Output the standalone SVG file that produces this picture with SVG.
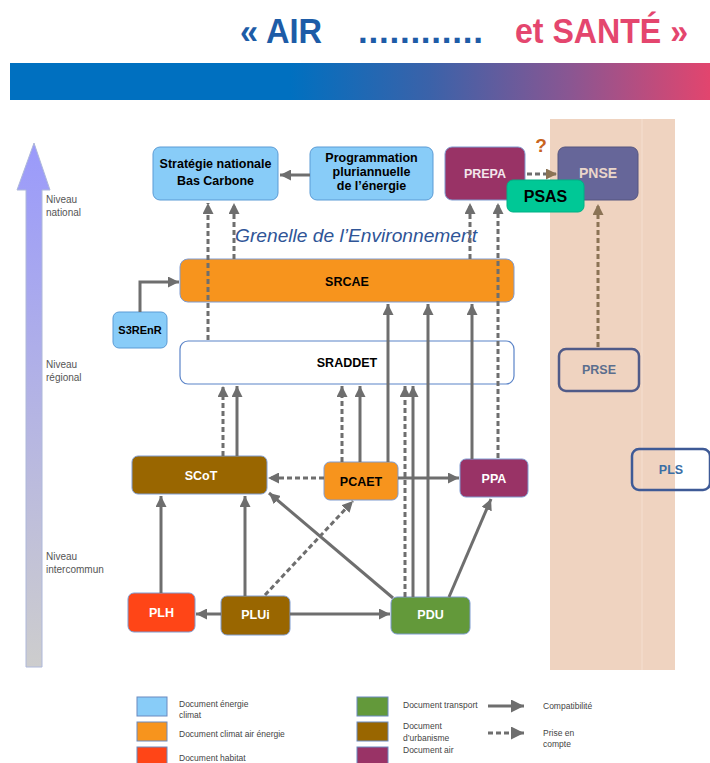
<svg xmlns="http://www.w3.org/2000/svg" width="710" height="763" viewBox="0 0 710 763">
<style>
text{font-family:"Liberation Sans",Arial,sans-serif}
.n text{font-weight:bold;font-size:12.5px;text-anchor:middle}
.t{font-weight:bold}
.lv{font-size:10px;fill:#555}
.lg{font-size:8.5px;fill:#444}
.c{stroke:#6E6E6E;stroke-width:3;fill:none}
.d{stroke-dasharray:5 3}
.bl{fill:#88CCF8;stroke:#5B9BD5;stroke-width:1}
.or{fill:#F7941D;stroke:#7E9BD0;stroke-width:1}
.br{fill:#996600;stroke:#7E9BD0;stroke-width:1}
.pu{fill:#993366;stroke:#7E9BD0;stroke-width:1}
.gr{fill:#63993A;stroke:#7E9BD0;stroke-width:1}
.rd{fill:#FF4517;stroke:#7E9BD0;stroke-width:1}
.sw{stroke:#6A8AC0;stroke-width:1}
</style>
<defs>
<linearGradient id="bar" x1="0" y1="0" x2="1" y2="0">
<stop offset="0" stop-color="#0070C0"/>
<stop offset="0.4" stop-color="#0070C0"/>
<stop offset="0.6" stop-color="#3B62A9"/>
<stop offset="0.8" stop-color="#8A5692"/>
<stop offset="1" stop-color="#E2456E"/>
</linearGradient>
<linearGradient id="axis" x1="0" y1="0" x2="0" y2="1">
<stop offset="0" stop-color="#9A9AFB"/>
<stop offset="1" stop-color="#CDCDCD"/>
</linearGradient>
<marker id="ah" viewBox="0 0 10 10" refX="10" refY="5" markerWidth="11" markerHeight="11" markerUnits="userSpaceOnUse" orient="auto"><path d="M0,0 L10,5 L0,10 z" fill="#6E6E6E"/></marker>
<marker id="ahb" viewBox="0 0 10 10" refX="10" refY="5" markerWidth="11" markerHeight="11" markerUnits="userSpaceOnUse" orient="auto"><path d="M0,0 L10,5 L0,10 z" fill="#8B7355"/></marker>
<marker id="ahl" viewBox="0 0 10 10" refX="10" refY="5" markerWidth="13" markerHeight="13" markerUnits="userSpaceOnUse" orient="auto"><path d="M0,0 L10,5 L0,10 z" fill="#6E6E6E"/></marker>
</defs>

<!-- title -->
<text class="t" x="240" y="43" font-size="35" fill="#1D5CA7" textLength="82" lengthAdjust="spacingAndGlyphs">« AIR</text>
<text class="t" x="358" y="43" font-size="35" fill="#1D5CA7" textLength="125" lengthAdjust="spacing">............</text>
<text class="t" x="515" y="43" font-size="35" fill="#E4466E" textLength="173" lengthAdjust="spacingAndGlyphs">et SANTÉ »</text>
<rect x="10" y="63" width="700" height="37" fill="url(#bar)"/>

<!-- health column -->
<rect x="550" y="119" width="125" height="551" fill="#EFD3C0"/>
<line x1="642" y1="119" x2="642" y2="670" stroke="#F5DFD0" stroke-width="1"/>

<!-- axis -->
<polygon points="34,143 50,190 42,190 42,667 26,667 26,190 17,190" fill="url(#axis)" stroke="#AEB8DA" stroke-width="1"/>
<text class="lv" x="46" y="203">Niveau</text>
<text class="lv" x="46" y="216">national</text>
<text class="lv" x="46" y="368">Niveau</text>
<text class="lv" x="46" y="381">régional</text>
<text class="lv" x="46" y="560">Niveau</text>
<text class="lv" x="46" y="573">intercommun</text>

<text x="235" y="242" font-size="19" font-style="italic" fill="#2F5597" textLength="242" lengthAdjust="spacingAndGlyphs">Grenelle de l’Environnement</text>

<g id="nodes">
<g id="snbc" class="n"><rect class="bl" x="153" y="147" width="125" height="53" rx="7"/><text x="215.5" y="168">Stratégie nationale</text><text x="215.5" y="185">Bas Carbone</text></g>
<g id="ppe" class="n"><rect class="bl" x="310" y="147" width="123" height="53" rx="7"/><text x="371.5" y="162">Programmation</text><text x="371.5" y="176">pluriannuelle</text><text x="371.5" y="190">de l’énergie</text></g>
<g id="prepa" class="n"><rect class="pu" x="445" y="147" width="80" height="53" rx="7"/><text x="485" y="178" fill="#F3E6EC" font-size="13">PREPA</text></g>
<g id="pnse" class="n"><rect x="558" y="147" width="80" height="53" rx="7" fill="#666699" stroke="#55557F" stroke-width="1"/><text x="598" y="178" fill="#EAD6CA" style="font-size:14px">PNSE</text></g>
<g id="srcae" class="n"><rect class="or" x="180" y="259" width="334" height="43" rx="8"/><text x="347" y="286">SRCAE</text></g>
<g id="s3renr" class="n"><rect class="bl" x="113" y="312" width="54" height="36" rx="6"/><text x="140" y="334" style="font-size:11px">S3REnR</text></g>
<g id="sraddet" class="n"><rect x="180" y="341" width="334" height="43" rx="8" fill="#FFFFFF" stroke="#5B84C8" stroke-width="1.2"/><text x="347" y="367">SRADDET</text></g>
<g id="prse" class="n"><rect x="559" y="349" width="80" height="42" rx="7" fill="none" stroke="#4F5A88" stroke-width="2.5"/><text x="599" y="374" fill="#5A6E8E">PRSE</text></g>
<g id="pls" class="n"><rect x="632" y="449" width="78" height="41" rx="7" fill="none" stroke="#3E5A96" stroke-width="2.5"/><text x="671" y="474" fill="#3A6EA5">PLS</text></g>
<g id="scot" class="n"><rect class="br" x="132" y="456" width="135" height="38" rx="6"/><text x="201" y="480" fill="#FFFFFF">SCoT</text></g>
<g id="pcaet" class="n"><rect class="or" x="324" y="462" width="74" height="38" rx="6"/><text x="361" y="486">PCAET</text></g>
<g id="ppa" class="n"><rect class="pu" x="460" y="459" width="68" height="38" rx="6"/><text x="494" y="483" fill="#FFFFFF">PPA</text></g>
<g id="plh" class="n"><rect class="rd" x="128" y="593" width="67" height="39" rx="6"/><text x="161.5" y="617" fill="#FFFFFF">PLH</text></g>
<g id="plui" class="n"><rect class="br" x="221" y="596" width="69" height="39" rx="6"/><text x="255.5" y="619" fill="#FFFFFF">PLUi</text></g>
<g id="pdu" class="n"><rect class="gr" x="391" y="597" width="79" height="37" rx="6"/><text x="430.5" y="619" fill="#FFFFFF">PDU</text></g>
</g>

<g id="connectors">
<line class="c" x1="310" y1="175" x2="280" y2="175" marker-end="url(#ah)"/>
<line class="c d" x1="208" y1="340" x2="208" y2="203" marker-end="url(#ah)"/>
<line class="c d" x1="234" y1="259" x2="234" y2="203" marker-end="url(#ah)"/>
<line class="c d" x1="470" y1="259" x2="470" y2="203" marker-end="url(#ah)"/>
<line class="c d" x1="498" y1="458" x2="498" y2="203" marker-end="url(#ah)"/>
<line class="c d" x1="527" y1="174" x2="557" y2="174" marker-end="url(#ahb)"/>
<line class="c d" x1="598" y1="347" x2="598" y2="204" stroke="#8B7355" marker-end="url(#ahb)" style="stroke:#8B7355"/>
<path class="c" d="M140,312 V282 H179" marker-end="url(#ah)"/>
<line class="c d" x1="223" y1="456" x2="223" y2="386" marker-end="url(#ah)"/>
<line class="c" x1="237" y1="456" x2="237" y2="386" marker-end="url(#ah)"/>
<line class="c d" x1="342" y1="462" x2="342" y2="386" marker-end="url(#ah)"/>
<line class="c" x1="360" y1="462" x2="360" y2="386" marker-end="url(#ah)"/>
<line class="c" x1="388" y1="462" x2="388" y2="304" marker-end="url(#ah)"/>
<line class="c d" x1="405" y1="597" x2="405" y2="386" marker-end="url(#ah)"/>
<line class="c" x1="413" y1="597" x2="413" y2="386" marker-end="url(#ah)"/>
<line class="c" x1="428" y1="597" x2="428" y2="304" marker-end="url(#ah)"/>
<line class="c" x1="472" y1="459" x2="472" y2="304" marker-end="url(#ah)"/>
<line class="c d" x1="324" y1="478" x2="268" y2="478" marker-end="url(#ah)"/>
<line class="c" x1="398" y1="478" x2="459" y2="478" marker-end="url(#ah)"/>
<line class="c" x1="161" y1="593" x2="161" y2="496" marker-end="url(#ah)"/>
<line class="c" x1="245" y1="596" x2="245" y2="496" marker-end="url(#ah)"/>
<line class="c d" x1="265" y1="595" x2="353" y2="501" marker-end="url(#ah)"/>
<line class="c" x1="393" y1="598" x2="269" y2="493" marker-end="url(#ah)"/>
<line class="c" x1="449" y1="597" x2="491" y2="499" marker-end="url(#ah)"/>
<line class="c" x1="221" y1="614" x2="196" y2="614" marker-end="url(#ah)"/>
<line class="c" x1="290" y1="614" x2="390" y2="614" marker-end="url(#ah)"/>
</g>

<g id="psas" class="n"><rect x="507" y="180" width="77" height="32" rx="6" fill="#00C896" stroke="#00B085" stroke-width="1"/><text x="545.5" y="202" style="font-size:16px" fill="#000">PSAS</text></g>
<text class="t" x="541" y="152" font-size="19" fill="#C8641E" text-anchor="middle">?</text>

<g id="legend">
<rect class="sw" x="137" y="697" width="30" height="19" fill="#88CCF8"/>
<text class="lg" x="179" y="707">Document énergie</text>
<text class="lg" x="179" y="718">climat</text>
<rect class="sw" x="137" y="722" width="30" height="19" fill="#F7941D"/>
<text class="lg" x="179" y="737">Document climat air énergie</text>
<rect class="sw" x="137" y="747" width="30" height="19" fill="#FF4517"/>
<text class="lg" x="179" y="761">Document habitat</text>
<rect class="sw" x="357" y="697" width="31" height="19" fill="#63993A"/>
<text class="lg" x="403" y="708">Document transport</text>
<rect class="sw" x="357" y="722" width="31" height="19" fill="#996600"/>
<text class="lg" x="403" y="729">Document</text>
<text class="lg" x="403" y="741">d’urbanisme</text>
<rect class="sw" x="357" y="747" width="31" height="19" fill="#993366"/>
<text class="lg" x="403" y="753">Document air</text>
<line class="c" x1="488" y1="706" x2="524" y2="706" marker-end="url(#ahl)"/>
<text class="lg" x="543" y="709">Compatibilité</text>
<line class="c d" x1="488" y1="733" x2="524" y2="733" marker-end="url(#ahl)"/>
<text class="lg" x="543" y="736">Prise en</text>
<text class="lg" x="543" y="747">compte</text>
</g>
</svg>
